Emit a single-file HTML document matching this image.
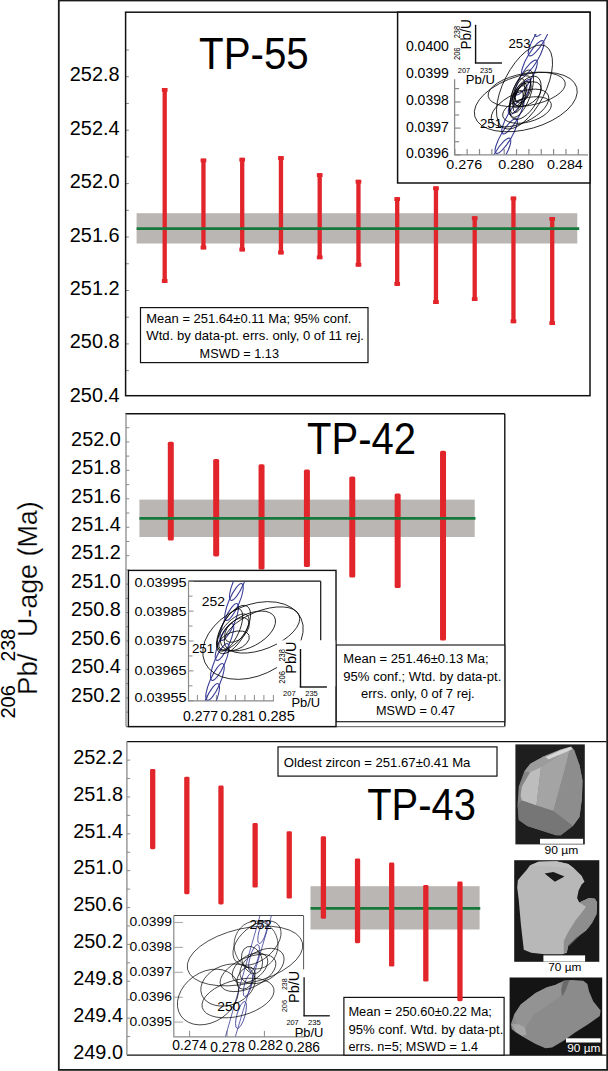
<!DOCTYPE html>
<html><head><meta charset="utf-8"><style>
html,body{margin:0;padding:0;background:#fff;}
svg{display:block;}
text{font-family:"Liberation Sans", sans-serif;}
</style></head><body>
<svg width="608" height="1071" viewBox="0 0 608 1071" font-family='"Liberation Sans", sans-serif'>
<rect x="0" y="0" width="608" height="1071" fill="#fff"/>
<rect x="58.80" y="0.50" width="548.40" height="1069.40" fill="none" stroke="#1a1a1a" stroke-width="1.8" />
<g transform="translate(37.0 0) rotate(-90)" stroke="#fff" stroke-width="0.25"><text x="-695.0" y="0" font-size="27" textLength="41.5" lengthAdjust="spacingAndGlyphs">Pb/</text><text x="-637.0" y="0" font-size="27" textLength="135.6" lengthAdjust="spacingAndGlyphs">U-age (Ma)</text></g>
<g transform="translate(14.9 0) rotate(-90)"><text x="-718.6" y="0" font-size="19.3" textLength="33.6" lengthAdjust="spacingAndGlyphs">206</text><text x="-661.4" y="0" font-size="19.3" textLength="32.4" lengthAdjust="spacingAndGlyphs">238</text></g>
<line x1="125.60" y1="50.00" x2="128.90" y2="50.00" stroke="#8a8a8a" stroke-width="1" />
<line x1="125.60" y1="76.72" x2="128.90" y2="76.72" stroke="#8a8a8a" stroke-width="1" />
<line x1="125.60" y1="103.44" x2="128.90" y2="103.44" stroke="#8a8a8a" stroke-width="1" />
<line x1="125.60" y1="130.16" x2="128.90" y2="130.16" stroke="#8a8a8a" stroke-width="1" />
<line x1="125.60" y1="156.88" x2="128.90" y2="156.88" stroke="#8a8a8a" stroke-width="1" />
<line x1="125.60" y1="183.60" x2="128.90" y2="183.60" stroke="#8a8a8a" stroke-width="1" />
<line x1="125.60" y1="210.32" x2="128.90" y2="210.32" stroke="#8a8a8a" stroke-width="1" />
<line x1="125.60" y1="237.04" x2="128.90" y2="237.04" stroke="#8a8a8a" stroke-width="1" />
<line x1="125.60" y1="263.76" x2="128.90" y2="263.76" stroke="#8a8a8a" stroke-width="1" />
<line x1="125.60" y1="290.48" x2="128.90" y2="290.48" stroke="#8a8a8a" stroke-width="1" />
<line x1="125.60" y1="317.20" x2="128.90" y2="317.20" stroke="#8a8a8a" stroke-width="1" />
<line x1="125.60" y1="343.92" x2="128.90" y2="343.92" stroke="#8a8a8a" stroke-width="1" />
<line x1="125.60" y1="370.64" x2="128.90" y2="370.64" stroke="#8a8a8a" stroke-width="1" />
<text x="69.80" y="81.20" font-size="20" textLength="49.80" lengthAdjust="spacingAndGlyphs" text-anchor="start" fill="#000" >252.8</text>
<text x="69.80" y="134.65" font-size="20" textLength="49.80" lengthAdjust="spacingAndGlyphs" text-anchor="start" fill="#000" >252.4</text>
<text x="69.80" y="188.10" font-size="20" textLength="49.80" lengthAdjust="spacingAndGlyphs" text-anchor="start" fill="#000" >252.0</text>
<text x="69.80" y="241.55" font-size="20" textLength="49.80" lengthAdjust="spacingAndGlyphs" text-anchor="start" fill="#000" >251.6</text>
<text x="69.80" y="295.00" font-size="20" textLength="49.80" lengthAdjust="spacingAndGlyphs" text-anchor="start" fill="#000" >251.2</text>
<text x="69.80" y="348.45" font-size="20" textLength="49.80" lengthAdjust="spacingAndGlyphs" text-anchor="start" fill="#000" >250.8</text>
<text x="69.80" y="401.90" font-size="20" textLength="49.80" lengthAdjust="spacingAndGlyphs" text-anchor="start" fill="#000" >250.4</text>
<rect x="136.60" y="213.20" width="440.70" height="30.30" fill="#bab6b3" />
<rect x="162.55" y="88.00" width="4.30" height="194.90" fill="#e2252b" />
<rect x="161.85" y="88.00" width="5.70" height="3.80" fill="#e2252b" />
<rect x="161.85" y="279.10" width="5.70" height="3.80" fill="#e2252b" />
<rect x="201.30" y="158.60" width="4.30" height="90.80" fill="#e2252b" />
<rect x="200.60" y="158.60" width="5.70" height="3.80" fill="#e2252b" />
<rect x="200.60" y="245.60" width="5.70" height="3.80" fill="#e2252b" />
<rect x="240.05" y="157.80" width="4.30" height="93.60" fill="#e2252b" />
<rect x="239.35" y="157.80" width="5.70" height="3.80" fill="#e2252b" />
<rect x="239.35" y="247.60" width="5.70" height="3.80" fill="#e2252b" />
<rect x="278.80" y="156.20" width="4.30" height="98.20" fill="#e2252b" />
<rect x="278.10" y="156.20" width="5.70" height="3.80" fill="#e2252b" />
<rect x="278.10" y="250.60" width="5.70" height="3.80" fill="#e2252b" />
<rect x="317.55" y="173.20" width="4.30" height="86.00" fill="#e2252b" />
<rect x="316.85" y="173.20" width="5.70" height="3.80" fill="#e2252b" />
<rect x="316.85" y="255.40" width="5.70" height="3.80" fill="#e2252b" />
<rect x="356.30" y="179.80" width="4.30" height="86.80" fill="#e2252b" />
<rect x="355.60" y="179.80" width="5.70" height="3.80" fill="#e2252b" />
<rect x="355.60" y="262.80" width="5.70" height="3.80" fill="#e2252b" />
<rect x="395.05" y="197.20" width="4.30" height="88.60" fill="#e2252b" />
<rect x="394.35" y="197.20" width="5.70" height="3.80" fill="#e2252b" />
<rect x="394.35" y="282.00" width="5.70" height="3.80" fill="#e2252b" />
<rect x="433.80" y="186.40" width="4.30" height="117.60" fill="#e2252b" />
<rect x="433.10" y="186.40" width="5.70" height="3.80" fill="#e2252b" />
<rect x="433.10" y="300.20" width="5.70" height="3.80" fill="#e2252b" />
<rect x="472.55" y="216.30" width="4.30" height="84.70" fill="#e2252b" />
<rect x="471.85" y="216.30" width="5.70" height="3.80" fill="#e2252b" />
<rect x="471.85" y="297.20" width="5.70" height="3.80" fill="#e2252b" />
<rect x="511.30" y="196.60" width="4.30" height="126.60" fill="#e2252b" />
<rect x="510.60" y="196.60" width="5.70" height="3.80" fill="#e2252b" />
<rect x="510.60" y="319.40" width="5.70" height="3.80" fill="#e2252b" />
<rect x="550.05" y="217.00" width="4.30" height="108.00" fill="#e2252b" />
<rect x="549.35" y="217.00" width="5.70" height="3.80" fill="#e2252b" />
<rect x="549.35" y="321.20" width="5.70" height="3.80" fill="#e2252b" />
<line x1="136.60" y1="228.70" x2="579.20" y2="228.70" stroke="#15793b" stroke-width="2.7" />
<text x="199.00" y="68.50" font-size="44" textLength="109.80" lengthAdjust="spacingAndGlyphs" text-anchor="start" fill="#000" >TP-55</text>
<rect x="140.50" y="307.60" width="227.50" height="55.00" fill="#fff" stroke="#111" stroke-width="1.2" />
<text x="146.30" y="323.00" font-size="12.2" textLength="205.10" lengthAdjust="spacingAndGlyphs" text-anchor="start" fill="#000" >Mean = 251.64&#177;0.11 Ma; 95% conf.</text>
<text x="146.30" y="340.20" font-size="12.2" textLength="217.70" lengthAdjust="spacingAndGlyphs" text-anchor="start" fill="#000" >Wtd. by data-pt. errs. only, 0 of 11 rej.</text>
<text x="199.60" y="357.60" font-size="12.2" textLength="79.40" lengthAdjust="spacingAndGlyphs" text-anchor="start" fill="#000" >MSWD = 1.13</text>
<rect x="125.60" y="12.20" width="464.40" height="383.50" fill="none" stroke="#111" stroke-width="1.5" />
<rect x="397.60" y="12.20" width="192.40" height="170.80" fill="#fff" stroke="#111" stroke-width="1.5" />
<line x1="454.60" y1="79.20" x2="454.60" y2="155.00" stroke="#8a8a8a" stroke-width="1.3" />
<line x1="454.00" y1="154.80" x2="588.00" y2="154.80" stroke="#8a8a8a" stroke-width="1.3" />
<line x1="454.60" y1="154.80" x2="460.60" y2="154.80" stroke="#8a8a8a" stroke-width="1.2" />
<line x1="454.60" y1="141.70" x2="459.10" y2="141.70" stroke="#8a8a8a" stroke-width="1.2" />
<line x1="454.60" y1="128.10" x2="460.60" y2="128.10" stroke="#8a8a8a" stroke-width="1.2" />
<line x1="454.60" y1="115.00" x2="459.10" y2="115.00" stroke="#8a8a8a" stroke-width="1.2" />
<line x1="454.60" y1="102.00" x2="460.60" y2="102.00" stroke="#8a8a8a" stroke-width="1.2" />
<line x1="454.60" y1="88.60" x2="459.10" y2="88.60" stroke="#8a8a8a" stroke-width="1.2" />
<line x1="454.80" y1="154.80" x2="454.80" y2="149.00" stroke="#8a8a8a" stroke-width="1.2" />
<line x1="467.15" y1="154.80" x2="467.15" y2="149.00" stroke="#8a8a8a" stroke-width="1.2" />
<line x1="479.50" y1="154.80" x2="479.50" y2="149.00" stroke="#8a8a8a" stroke-width="1.2" />
<line x1="491.85" y1="154.80" x2="491.85" y2="149.00" stroke="#8a8a8a" stroke-width="1.2" />
<line x1="504.20" y1="154.80" x2="504.20" y2="149.00" stroke="#8a8a8a" stroke-width="1.2" />
<line x1="516.55" y1="154.80" x2="516.55" y2="149.00" stroke="#8a8a8a" stroke-width="1.2" />
<line x1="528.90" y1="154.80" x2="528.90" y2="149.00" stroke="#8a8a8a" stroke-width="1.2" />
<line x1="541.25" y1="154.80" x2="541.25" y2="149.00" stroke="#8a8a8a" stroke-width="1.2" />
<line x1="553.60" y1="154.80" x2="553.60" y2="149.00" stroke="#8a8a8a" stroke-width="1.2" />
<line x1="565.95" y1="154.80" x2="565.95" y2="149.00" stroke="#8a8a8a" stroke-width="1.2" />
<line x1="578.30" y1="154.80" x2="578.30" y2="149.00" stroke="#8a8a8a" stroke-width="1.2" />
<text x="405.90" y="51.40" font-size="13.8" textLength="43.00" lengthAdjust="spacingAndGlyphs" text-anchor="start" fill="#000" >0.0400</text>
<text x="405.90" y="78.10" font-size="13.8" textLength="43.00" lengthAdjust="spacingAndGlyphs" text-anchor="start" fill="#000" >0.0399</text>
<text x="405.90" y="104.80" font-size="13.8" textLength="43.00" lengthAdjust="spacingAndGlyphs" text-anchor="start" fill="#000" >0.0398</text>
<text x="405.90" y="131.50" font-size="13.8" textLength="43.00" lengthAdjust="spacingAndGlyphs" text-anchor="start" fill="#000" >0.0397</text>
<text x="405.90" y="158.20" font-size="13.8" textLength="43.00" lengthAdjust="spacingAndGlyphs" text-anchor="start" fill="#000" >0.0396</text>
<text x="446.30" y="169.00" font-size="13.4" textLength="35.80" lengthAdjust="spacingAndGlyphs" text-anchor="start" fill="#000" >0.276</text>
<text x="498.20" y="169.00" font-size="13.4" textLength="35.80" lengthAdjust="spacingAndGlyphs" text-anchor="start" fill="#000" >0.280</text>
<text x="547.00" y="169.00" font-size="13.4" textLength="35.80" lengthAdjust="spacingAndGlyphs" text-anchor="start" fill="#000" >0.284</text>
<clipPath id="cc1"><rect x="455" y="34" width="135" height="120.5"/></clipPath><g clip-path="url(#cc1)">
<ellipse cx="493.00" cy="175.00" rx="20.00" ry="5.20" transform="rotate(-59.23513670710372 493.00 175.00)" fill="none" stroke="#3b3e96" stroke-width="1.1"/>
<ellipse cx="499.62" cy="155.50" rx="20.00" ry="5.20" transform="rotate(-59.23513670710372 499.62 155.50)" fill="none" stroke="#3b3e96" stroke-width="1.1"/>
<ellipse cx="506.25" cy="136.00" rx="20.00" ry="5.20" transform="rotate(-59.23513670710372 506.25 136.00)" fill="none" stroke="#3b3e96" stroke-width="1.1"/>
<ellipse cx="512.88" cy="116.50" rx="20.00" ry="5.20" transform="rotate(-59.23513670710372 512.88 116.50)" fill="none" stroke="#3b3e96" stroke-width="1.1"/>
<ellipse cx="519.50" cy="97.00" rx="20.00" ry="5.20" transform="rotate(-59.23513670710372 519.50 97.00)" fill="none" stroke="#3b3e96" stroke-width="1.1"/>
<ellipse cx="526.12" cy="77.50" rx="20.00" ry="5.20" transform="rotate(-59.23513670710372 526.12 77.50)" fill="none" stroke="#3b3e96" stroke-width="1.1"/>
<ellipse cx="532.75" cy="58.00" rx="20.00" ry="5.20" transform="rotate(-59.23513670710372 532.75 58.00)" fill="none" stroke="#3b3e96" stroke-width="1.1"/>
<ellipse cx="539.38" cy="38.50" rx="20.00" ry="5.20" transform="rotate(-59.23513670710372 539.38 38.50)" fill="none" stroke="#3b3e96" stroke-width="1.1"/>
<ellipse cx="546.00" cy="19.00" rx="20.00" ry="5.20" transform="rotate(-59.23513670710372 546.00 19.00)" fill="none" stroke="#3b3e96" stroke-width="1.1"/>
</g>
<ellipse cx="524.50" cy="87.00" rx="46.00" ry="21.00" transform="rotate(-63 524.50 87.00)" fill="none" stroke="#000" stroke-width="0.75"/>
<ellipse cx="526.70" cy="89.50" rx="39.10" ry="16.20" transform="rotate(-10 526.70 89.50)" fill="none" stroke="#000" stroke-width="0.75"/>
<ellipse cx="525.80" cy="102.00" rx="53.00" ry="27.00" transform="rotate(-16 525.80 102.00)" fill="none" stroke="#000" stroke-width="0.75"/>
<ellipse cx="527.00" cy="110.00" rx="25.00" ry="12.00" transform="rotate(-15 527.00 110.00)" fill="none" stroke="#000" stroke-width="0.75"/>
<ellipse cx="520.00" cy="108.00" rx="31.00" ry="15.00" transform="rotate(-25 520.00 108.00)" fill="none" stroke="#000" stroke-width="0.75"/>
<ellipse cx="517.40" cy="95.90" rx="18.00" ry="6.00" transform="rotate(-75 517.40 95.90)" fill="none" stroke="#000" stroke-width="0.75"/>
<ellipse cx="521.50" cy="91.50" rx="17.00" ry="7.00" transform="rotate(-67 521.50 91.50)" fill="none" stroke="#000" stroke-width="0.75"/>
<ellipse cx="523.30" cy="92.20" rx="12.00" ry="6.00" transform="rotate(-60 523.30 92.20)" fill="none" stroke="#000" stroke-width="0.75"/>
<ellipse cx="521.50" cy="93.70" rx="25.00" ry="9.00" transform="rotate(-70 521.50 93.70)" fill="none" stroke="#000" stroke-width="0.75"/>
<ellipse cx="525.20" cy="97.80" rx="24.00" ry="12.00" transform="rotate(-60 525.20 97.80)" fill="none" stroke="#000" stroke-width="0.75"/>
<ellipse cx="518.50" cy="98.00" rx="8.00" ry="4.00" transform="rotate(-70 518.50 98.00)" fill="none" stroke="#000" stroke-width="0.75"/>
<ellipse cx="520.70" cy="92.20" rx="10.00" ry="5.00" transform="rotate(-65 520.70 92.20)" fill="none" stroke="#000" stroke-width="0.75"/>
<ellipse cx="519.50" cy="99.00" rx="14.00" ry="5.00" transform="rotate(-72 519.50 99.00)" fill="none" stroke="#000" stroke-width="0.75"/>
<ellipse cx="527.00" cy="94.00" rx="16.00" ry="10.00" transform="rotate(-35 527.00 94.00)" fill="none" stroke="#000" stroke-width="0.75"/>
<text x="508.50" y="47.80" font-size="13.5" textLength="22.00" lengthAdjust="spacingAndGlyphs" text-anchor="start" fill="#000" >253</text>
<text x="480.00" y="127.60" font-size="13.5" textLength="22.00" lengthAdjust="spacingAndGlyphs" text-anchor="start" fill="#000" >251</text>
<line x1="475.60" y1="24.80" x2="475.60" y2="63.30" stroke="#111" stroke-width="1.4" />
<line x1="474.90" y1="63.00" x2="502.00" y2="63.00" stroke="#111" stroke-width="1.4" />
<g transform="translate(471.2 0) rotate(-90)"><text x="-49.5" y="0" font-size="14" textLength="30.3" lengthAdjust="spacingAndGlyphs">Pb/U</text></g>
<g transform="translate(459.7 0) rotate(-90)"><text x="-38.3" y="0" font-size="8.2" textLength="12.5" lengthAdjust="spacingAndGlyphs">238</text><text x="-60.0" y="0" font-size="8.2" textLength="12.5" lengthAdjust="spacingAndGlyphs">206</text></g>
<text x="457.80" y="72.80" font-size="7.2" textLength="12.30" lengthAdjust="spacingAndGlyphs" text-anchor="start" fill="#000" >207</text>
<text x="480.00" y="72.80" font-size="7.2" textLength="12.30" lengthAdjust="spacingAndGlyphs" text-anchor="start" fill="#000" >235</text>
<text x="465.80" y="84.40" font-size="12.5" textLength="29.20" lengthAdjust="spacingAndGlyphs" text-anchor="start" fill="#000" >Pb/U</text>
<line x1="125.40" y1="413.80" x2="504.80" y2="413.80" stroke="#111" stroke-width="1.4" />
<line x1="504.80" y1="413.80" x2="504.80" y2="726.60" stroke="#111" stroke-width="1.4" />
<line x1="126.00" y1="726.60" x2="504.80" y2="726.60" stroke="#777" stroke-width="1.3" />
<line x1="126.00" y1="413.80" x2="126.00" y2="726.60" stroke="#8a8a8a" stroke-width="1.3" />
<line x1="126.00" y1="427.70" x2="129.30" y2="427.70" stroke="#8a8a8a" stroke-width="1" />
<line x1="126.00" y1="441.92" x2="129.30" y2="441.92" stroke="#8a8a8a" stroke-width="1" />
<line x1="126.00" y1="456.14" x2="129.30" y2="456.14" stroke="#8a8a8a" stroke-width="1" />
<line x1="126.00" y1="470.36" x2="129.30" y2="470.36" stroke="#8a8a8a" stroke-width="1" />
<line x1="126.00" y1="484.58" x2="129.30" y2="484.58" stroke="#8a8a8a" stroke-width="1" />
<line x1="126.00" y1="498.80" x2="129.30" y2="498.80" stroke="#8a8a8a" stroke-width="1" />
<line x1="126.00" y1="513.02" x2="129.30" y2="513.02" stroke="#8a8a8a" stroke-width="1" />
<line x1="126.00" y1="527.24" x2="129.30" y2="527.24" stroke="#8a8a8a" stroke-width="1" />
<line x1="126.00" y1="541.46" x2="129.30" y2="541.46" stroke="#8a8a8a" stroke-width="1" />
<line x1="126.00" y1="555.68" x2="129.30" y2="555.68" stroke="#8a8a8a" stroke-width="1" />
<line x1="126.00" y1="569.90" x2="129.30" y2="569.90" stroke="#8a8a8a" stroke-width="1" />
<line x1="126.00" y1="584.12" x2="129.30" y2="584.12" stroke="#8a8a8a" stroke-width="1" />
<line x1="126.00" y1="598.34" x2="129.30" y2="598.34" stroke="#8a8a8a" stroke-width="1" />
<line x1="126.00" y1="612.56" x2="129.30" y2="612.56" stroke="#8a8a8a" stroke-width="1" />
<line x1="126.00" y1="626.78" x2="129.30" y2="626.78" stroke="#8a8a8a" stroke-width="1" />
<line x1="126.00" y1="641.00" x2="129.30" y2="641.00" stroke="#8a8a8a" stroke-width="1" />
<line x1="126.00" y1="655.22" x2="129.30" y2="655.22" stroke="#8a8a8a" stroke-width="1" />
<line x1="126.00" y1="669.44" x2="129.30" y2="669.44" stroke="#8a8a8a" stroke-width="1" />
<line x1="126.00" y1="683.66" x2="129.30" y2="683.66" stroke="#8a8a8a" stroke-width="1" />
<line x1="126.00" y1="697.88" x2="129.30" y2="697.88" stroke="#8a8a8a" stroke-width="1" />
<line x1="126.00" y1="712.10" x2="129.30" y2="712.10" stroke="#8a8a8a" stroke-width="1" />
<text x="71.10" y="445.70" font-size="20" textLength="49.70" lengthAdjust="spacingAndGlyphs" text-anchor="start" fill="#000" >252.0</text>
<text x="71.10" y="474.14" font-size="20" textLength="49.70" lengthAdjust="spacingAndGlyphs" text-anchor="start" fill="#000" >251.8</text>
<text x="71.10" y="502.58" font-size="20" textLength="49.70" lengthAdjust="spacingAndGlyphs" text-anchor="start" fill="#000" >251.6</text>
<text x="71.10" y="531.02" font-size="20" textLength="49.70" lengthAdjust="spacingAndGlyphs" text-anchor="start" fill="#000" >251.4</text>
<text x="71.10" y="559.46" font-size="20" textLength="49.70" lengthAdjust="spacingAndGlyphs" text-anchor="start" fill="#000" >251.2</text>
<text x="71.10" y="587.90" font-size="20" textLength="49.70" lengthAdjust="spacingAndGlyphs" text-anchor="start" fill="#000" >251.0</text>
<text x="71.10" y="616.34" font-size="20" textLength="49.70" lengthAdjust="spacingAndGlyphs" text-anchor="start" fill="#000" >250.8</text>
<text x="71.10" y="644.78" font-size="20" textLength="49.70" lengthAdjust="spacingAndGlyphs" text-anchor="start" fill="#000" >250.6</text>
<text x="71.10" y="673.22" font-size="20" textLength="49.70" lengthAdjust="spacingAndGlyphs" text-anchor="start" fill="#000" >250.4</text>
<text x="71.10" y="701.66" font-size="20" textLength="49.70" lengthAdjust="spacingAndGlyphs" text-anchor="start" fill="#000" >250.2</text>
<rect x="139.40" y="499.60" width="335.30" height="37.40" fill="#bab6b3" />
<rect x="167.80" y="441.70" width="6.00" height="98.90" fill="#e2252b" rx="1.6"/>
<rect x="213.17" y="459.00" width="6.00" height="97.40" fill="#e2252b" rx="1.6"/>
<rect x="258.54" y="464.20" width="6.00" height="105.30" fill="#e2252b" rx="1.6"/>
<rect x="303.91" y="469.60" width="6.00" height="97.40" fill="#e2252b" rx="1.6"/>
<rect x="349.28" y="476.40" width="6.00" height="101.20" fill="#e2252b" rx="1.6"/>
<rect x="394.65" y="493.40" width="6.00" height="94.60" fill="#e2252b" rx="1.6"/>
<rect x="440.02" y="450.80" width="6.00" height="189.80" fill="#e2252b" rx="1.6"/>
<line x1="139.40" y1="518.30" x2="475.50" y2="518.30" stroke="#15793b" stroke-width="2.7" />
<text x="307.00" y="453.50" font-size="44" textLength="109.00" lengthAdjust="spacingAndGlyphs" text-anchor="start" fill="#000" >TP-42</text>
<rect x="336.00" y="645.00" width="168.80" height="76.70" fill="#fff" stroke="#222" stroke-width="1.2" />
<text x="343.30" y="663.00" font-size="12.5" textLength="145.30" lengthAdjust="spacingAndGlyphs" text-anchor="start" fill="#000" >Mean = 251.46&#177;0.13 Ma;</text>
<text x="343.30" y="680.80" font-size="12.5" textLength="158.00" lengthAdjust="spacingAndGlyphs" text-anchor="start" fill="#000" >95% conf.; Wtd. by data-pt.</text>
<text x="361.10" y="697.70" font-size="12.5" textLength="113.60" lengthAdjust="spacingAndGlyphs" text-anchor="start" fill="#000" >errs. only, 0 of 7 rej.</text>
<text x="375.90" y="714.50" font-size="12.5" textLength="79.20" lengthAdjust="spacingAndGlyphs" text-anchor="start" fill="#000" >MSWD = 0.47</text>
<rect x="128.40" y="570.40" width="207.60" height="156.20" fill="#fff" stroke="#111" stroke-width="1.4" />
<line x1="188.50" y1="581.20" x2="320.70" y2="581.20" stroke="#111" stroke-width="1.2" />
<line x1="320.70" y1="581.20" x2="320.70" y2="640.40" stroke="#111" stroke-width="1.2" />
<line x1="188.50" y1="581.20" x2="188.50" y2="701.30" stroke="#8a8a8a" stroke-width="1.2" />
<line x1="188.00" y1="700.80" x2="273.80" y2="700.80" stroke="#8a8a8a" stroke-width="1.2" />
<line x1="188.50" y1="581.20" x2="193.50" y2="581.20" stroke="#8a8a8a" stroke-width="1" />
<line x1="188.50" y1="596.15" x2="192.50" y2="596.15" stroke="#8a8a8a" stroke-width="1" />
<line x1="188.50" y1="611.10" x2="193.50" y2="611.10" stroke="#8a8a8a" stroke-width="1" />
<line x1="188.50" y1="626.05" x2="192.50" y2="626.05" stroke="#8a8a8a" stroke-width="1" />
<line x1="188.50" y1="641.00" x2="193.50" y2="641.00" stroke="#8a8a8a" stroke-width="1" />
<line x1="188.50" y1="655.95" x2="192.50" y2="655.95" stroke="#8a8a8a" stroke-width="1" />
<line x1="188.50" y1="670.90" x2="193.50" y2="670.90" stroke="#8a8a8a" stroke-width="1" />
<line x1="188.50" y1="685.85" x2="192.50" y2="685.85" stroke="#8a8a8a" stroke-width="1" />
<line x1="188.50" y1="700.80" x2="193.50" y2="700.80" stroke="#8a8a8a" stroke-width="1" />
<line x1="197.40" y1="700.80" x2="197.40" y2="695.00" stroke="#8a8a8a" stroke-width="1" />
<line x1="206.90" y1="700.80" x2="206.90" y2="695.00" stroke="#8a8a8a" stroke-width="1" />
<line x1="216.40" y1="700.80" x2="216.40" y2="695.00" stroke="#8a8a8a" stroke-width="1" />
<line x1="225.90" y1="700.80" x2="225.90" y2="695.00" stroke="#8a8a8a" stroke-width="1" />
<line x1="235.40" y1="700.80" x2="235.40" y2="695.00" stroke="#8a8a8a" stroke-width="1" />
<line x1="244.90" y1="700.80" x2="244.90" y2="695.00" stroke="#8a8a8a" stroke-width="1" />
<line x1="254.40" y1="700.80" x2="254.40" y2="695.00" stroke="#8a8a8a" stroke-width="1" />
<line x1="263.90" y1="700.80" x2="263.90" y2="695.00" stroke="#8a8a8a" stroke-width="1" />
<line x1="273.40" y1="700.80" x2="273.40" y2="695.00" stroke="#8a8a8a" stroke-width="1" />
<text x="134.40" y="586.50" font-size="13.7" textLength="52.20" lengthAdjust="spacingAndGlyphs" text-anchor="start" fill="#000" >0.03995</text>
<text x="134.40" y="615.60" font-size="13.7" textLength="52.20" lengthAdjust="spacingAndGlyphs" text-anchor="start" fill="#000" >0.03985</text>
<text x="134.40" y="645.20" font-size="13.7" textLength="52.20" lengthAdjust="spacingAndGlyphs" text-anchor="start" fill="#000" >0.03975</text>
<text x="134.40" y="675.00" font-size="13.7" textLength="52.20" lengthAdjust="spacingAndGlyphs" text-anchor="start" fill="#000" >0.03965</text>
<text x="134.40" y="702.30" font-size="13.7" textLength="52.20" lengthAdjust="spacingAndGlyphs" text-anchor="start" fill="#000" >0.03955</text>
<text x="183.00" y="720.60" font-size="15.0" textLength="35.20" lengthAdjust="spacingAndGlyphs" text-anchor="start" fill="#000" >0.277</text>
<text x="220.40" y="720.60" font-size="15.0" textLength="34.90" lengthAdjust="spacingAndGlyphs" text-anchor="start" fill="#000" >0.281</text>
<text x="258.40" y="720.60" font-size="15.0" textLength="36.40" lengthAdjust="spacingAndGlyphs" text-anchor="start" fill="#000" >0.285</text>
<clipPath id="cc2"><rect x="189" y="581.5" width="132" height="119.0"/></clipPath><g clip-path="url(#cc2)">
<ellipse cx="205.50" cy="722.00" rx="20.00" ry="5.20" transform="rotate(-66.63978155523552 205.50 722.00)" fill="none" stroke="#3b3e96" stroke-width="1.1"/>
<ellipse cx="210.25" cy="702.00" rx="20.00" ry="5.20" transform="rotate(-66.63978155523552 210.25 702.00)" fill="none" stroke="#3b3e96" stroke-width="1.1"/>
<ellipse cx="215.00" cy="682.00" rx="20.00" ry="5.20" transform="rotate(-66.63978155523552 215.00 682.00)" fill="none" stroke="#3b3e96" stroke-width="1.1"/>
<ellipse cx="219.75" cy="662.00" rx="20.00" ry="5.20" transform="rotate(-66.63978155523552 219.75 662.00)" fill="none" stroke="#3b3e96" stroke-width="1.1"/>
<ellipse cx="224.50" cy="642.00" rx="20.00" ry="5.20" transform="rotate(-66.63978155523552 224.50 642.00)" fill="none" stroke="#3b3e96" stroke-width="1.1"/>
<ellipse cx="229.25" cy="622.00" rx="20.00" ry="5.20" transform="rotate(-66.63978155523552 229.25 622.00)" fill="none" stroke="#3b3e96" stroke-width="1.1"/>
<ellipse cx="234.00" cy="602.00" rx="20.00" ry="5.20" transform="rotate(-66.63978155523552 234.00 602.00)" fill="none" stroke="#3b3e96" stroke-width="1.1"/>
<ellipse cx="238.75" cy="582.00" rx="20.00" ry="5.20" transform="rotate(-66.63978155523552 238.75 582.00)" fill="none" stroke="#3b3e96" stroke-width="1.1"/>
<ellipse cx="243.50" cy="562.00" rx="20.00" ry="5.20" transform="rotate(-66.63978155523552 243.50 562.00)" fill="none" stroke="#3b3e96" stroke-width="1.1"/>
</g>
<ellipse cx="253.00" cy="640.50" rx="52.90" ry="35.20" transform="rotate(-24.7 253.00 640.50)" fill="none" stroke="#000" stroke-width="0.75"/>
<ellipse cx="262.00" cy="630.00" rx="40.00" ry="19.00" transform="rotate(-22 262.00 630.00)" fill="none" stroke="#000" stroke-width="0.75"/>
<ellipse cx="248.00" cy="631.00" rx="30.00" ry="16.00" transform="rotate(-28 248.00 631.00)" fill="none" stroke="#000" stroke-width="0.75"/>
<ellipse cx="233.50" cy="629.50" rx="27.00" ry="12.00" transform="rotate(-60 233.50 629.50)" fill="none" stroke="#000" stroke-width="0.75"/>
<ellipse cx="233.00" cy="632.00" rx="22.00" ry="10.00" transform="rotate(-50 233.00 632.00)" fill="none" stroke="#000" stroke-width="0.75"/>
<ellipse cx="237.00" cy="630.00" rx="15.00" ry="9.00" transform="rotate(-45 237.00 630.00)" fill="none" stroke="#000" stroke-width="0.75"/>
<ellipse cx="230.00" cy="630.00" rx="23.00" ry="9.00" transform="rotate(-65 230.00 630.00)" fill="none" stroke="#000" stroke-width="0.75"/>
<ellipse cx="234.00" cy="641.00" rx="16.00" ry="9.00" transform="rotate(-20 234.00 641.00)" fill="none" stroke="#000" stroke-width="0.75"/>
<text x="201.80" y="605.80" font-size="13.0" textLength="23.20" lengthAdjust="spacingAndGlyphs" text-anchor="start" fill="#000" >252</text>
<text x="191.90" y="653.20" font-size="13.0" textLength="22.20" lengthAdjust="spacingAndGlyphs" text-anchor="start" fill="#000" >251</text>
<rect x="277.00" y="640.40" width="58.30" height="46.00" fill="#fff" />
<line x1="300.50" y1="649.00" x2="300.50" y2="687.30" stroke="#111" stroke-width="1.4" />
<line x1="299.80" y1="687.00" x2="326.90" y2="687.00" stroke="#111" stroke-width="1.4" />
<g transform="translate(295.7 0) rotate(-90)"><text x="-673.7" y="0" font-size="14.5" textLength="32" lengthAdjust="spacingAndGlyphs">Pb/U</text></g>
<g transform="translate(285.2 0) rotate(-90)"><text x="-661.6" y="0" font-size="8.2" textLength="12.6" lengthAdjust="spacingAndGlyphs">238</text><text x="-683.7" y="0" font-size="8.2" textLength="12.7" lengthAdjust="spacingAndGlyphs">206</text></g>
<text x="283.00" y="695.80" font-size="7.4" textLength="12.70" lengthAdjust="spacingAndGlyphs" text-anchor="start" fill="#000" >207</text>
<text x="305.20" y="695.80" font-size="7.4" textLength="12.60" lengthAdjust="spacingAndGlyphs" text-anchor="start" fill="#000" >235</text>
<text x="291.50" y="707.40" font-size="12.9" textLength="28.70" lengthAdjust="spacingAndGlyphs" text-anchor="start" fill="#000" >Pb/U</text>
<line x1="126.90" y1="741.60" x2="606.50" y2="741.60" stroke="#111" stroke-width="1.4" />
<line x1="126.90" y1="1055.10" x2="606.50" y2="1055.10" stroke="#111" stroke-width="1.4" />
<line x1="126.90" y1="741.60" x2="126.90" y2="1055.10" stroke="#8a8a8a" stroke-width="1.3" />
<line x1="126.90" y1="760.10" x2="130.20" y2="760.10" stroke="#8a8a8a" stroke-width="1" />
<line x1="126.90" y1="778.53" x2="130.20" y2="778.53" stroke="#8a8a8a" stroke-width="1" />
<line x1="126.90" y1="796.96" x2="130.20" y2="796.96" stroke="#8a8a8a" stroke-width="1" />
<line x1="126.90" y1="815.39" x2="130.20" y2="815.39" stroke="#8a8a8a" stroke-width="1" />
<line x1="126.90" y1="833.82" x2="130.20" y2="833.82" stroke="#8a8a8a" stroke-width="1" />
<line x1="126.90" y1="852.25" x2="130.20" y2="852.25" stroke="#8a8a8a" stroke-width="1" />
<line x1="126.90" y1="870.68" x2="130.20" y2="870.68" stroke="#8a8a8a" stroke-width="1" />
<line x1="126.90" y1="889.11" x2="130.20" y2="889.11" stroke="#8a8a8a" stroke-width="1" />
<line x1="126.90" y1="907.54" x2="130.20" y2="907.54" stroke="#8a8a8a" stroke-width="1" />
<line x1="126.90" y1="925.97" x2="130.20" y2="925.97" stroke="#8a8a8a" stroke-width="1" />
<line x1="126.90" y1="944.40" x2="130.20" y2="944.40" stroke="#8a8a8a" stroke-width="1" />
<line x1="126.90" y1="962.83" x2="130.20" y2="962.83" stroke="#8a8a8a" stroke-width="1" />
<line x1="126.90" y1="981.26" x2="130.20" y2="981.26" stroke="#8a8a8a" stroke-width="1" />
<line x1="126.90" y1="999.69" x2="130.20" y2="999.69" stroke="#8a8a8a" stroke-width="1" />
<line x1="126.90" y1="1018.12" x2="130.20" y2="1018.12" stroke="#8a8a8a" stroke-width="1" />
<line x1="126.90" y1="1036.55" x2="130.20" y2="1036.55" stroke="#8a8a8a" stroke-width="1" />
<text x="73.20" y="763.80" font-size="20" textLength="49.80" lengthAdjust="spacingAndGlyphs" text-anchor="start" fill="#000" >252.2</text>
<text x="73.20" y="800.66" font-size="20" textLength="49.80" lengthAdjust="spacingAndGlyphs" text-anchor="start" fill="#000" >251.8</text>
<text x="73.20" y="837.52" font-size="20" textLength="49.80" lengthAdjust="spacingAndGlyphs" text-anchor="start" fill="#000" >251.4</text>
<text x="73.20" y="874.38" font-size="20" textLength="49.80" lengthAdjust="spacingAndGlyphs" text-anchor="start" fill="#000" >251.0</text>
<text x="73.20" y="911.24" font-size="20" textLength="49.80" lengthAdjust="spacingAndGlyphs" text-anchor="start" fill="#000" >250.6</text>
<text x="73.20" y="948.10" font-size="20" textLength="49.80" lengthAdjust="spacingAndGlyphs" text-anchor="start" fill="#000" >250.2</text>
<text x="73.20" y="984.96" font-size="20" textLength="49.80" lengthAdjust="spacingAndGlyphs" text-anchor="start" fill="#000" >249.8</text>
<text x="73.20" y="1021.82" font-size="20" textLength="49.80" lengthAdjust="spacingAndGlyphs" text-anchor="start" fill="#000" >249.4</text>
<text x="73.20" y="1058.68" font-size="20" textLength="49.80" lengthAdjust="spacingAndGlyphs" text-anchor="start" fill="#000" >249.0</text>
<rect x="343.90" y="997.40" width="160.20" height="57.70" fill="#fff" stroke="#111" stroke-width="1.2" />
<text x="348.40" y="1016.20" font-size="12.5" textLength="143.50" lengthAdjust="spacingAndGlyphs" text-anchor="start" fill="#000" >Mean = 250.60&#177;0.22 Ma;</text>
<text x="348.40" y="1034.10" font-size="12.5" textLength="154.90" lengthAdjust="spacingAndGlyphs" text-anchor="start" fill="#000" >95% conf. Wtd. by data-pt.</text>
<text x="348.40" y="1050.70" font-size="12.5" textLength="129.70" lengthAdjust="spacingAndGlyphs" text-anchor="start" fill="#000" >errs. n=5; MSWD = 1.4</text>
<rect x="310.50" y="886.20" width="169.10" height="43.30" fill="#bab6b3" />
<line x1="310.50" y1="908.40" x2="480.30" y2="908.40" stroke="#15793b" stroke-width="2.7" />
<rect x="150.05" y="768.90" width="5.30" height="80.30" fill="#e2252b" rx="1.4"/>
<rect x="184.19" y="776.80" width="5.30" height="117.40" fill="#e2252b" rx="1.4"/>
<rect x="218.33" y="785.60" width="5.30" height="118.80" fill="#e2252b" rx="1.4"/>
<rect x="252.47" y="823.00" width="5.30" height="64.60" fill="#e2252b" rx="1.4"/>
<rect x="286.61" y="831.20" width="5.30" height="67.40" fill="#e2252b" rx="1.4"/>
<rect x="320.75" y="836.20" width="5.30" height="82.60" fill="#e2252b" rx="1.4"/>
<rect x="354.89" y="858.40" width="5.30" height="84.80" fill="#e2252b" rx="1.4"/>
<rect x="389.03" y="862.60" width="5.30" height="104.00" fill="#e2252b" rx="1.4"/>
<rect x="423.17" y="885.00" width="5.30" height="96.60" fill="#e2252b" rx="1.4"/>
<rect x="457.31" y="881.60" width="5.30" height="119.60" fill="#e2252b" rx="1.4"/>
<text x="367.20" y="820.30" font-size="44.6" textLength="108.80" lengthAdjust="spacingAndGlyphs" text-anchor="start" fill="#000" >TP-43</text>
<rect x="278.00" y="746.90" width="219.00" height="29.20" fill="#fff" stroke="#111" stroke-width="1.2" />
<text x="283.80" y="766.60" font-size="13.6" textLength="186.60" lengthAdjust="spacingAndGlyphs" text-anchor="start" fill="#000" >Oldest zircon = 251.67&#177;0.41 Ma</text>
<rect x="173.80" y="915.50" width="129.60" height="121.00" fill="#fff" />
<line x1="173.80" y1="915.50" x2="303.40" y2="915.50" stroke="#444" stroke-width="1" />
<line x1="303.60" y1="915.50" x2="303.60" y2="969.40" stroke="#555" stroke-width="1" />
<line x1="173.80" y1="915.50" x2="173.80" y2="1036.80" stroke="#8a8a8a" stroke-width="1.2" />
<line x1="173.30" y1="1036.80" x2="304.60" y2="1036.80" stroke="#8a8a8a" stroke-width="1.2" />
<line x1="173.80" y1="922.50" x2="182.90" y2="922.50" stroke="#aaa" stroke-width="1.1" />
<line x1="173.80" y1="947.40" x2="182.90" y2="947.40" stroke="#aaa" stroke-width="1.1" />
<line x1="173.80" y1="972.30" x2="182.90" y2="972.30" stroke="#aaa" stroke-width="1.1" />
<line x1="173.80" y1="997.20" x2="182.90" y2="997.20" stroke="#aaa" stroke-width="1.1" />
<line x1="173.80" y1="1022.10" x2="182.90" y2="1022.10" stroke="#aaa" stroke-width="1.1" />
<line x1="189.60" y1="1036.80" x2="189.60" y2="1030.80" stroke="#8a8a8a" stroke-width="1" />
<line x1="227.00" y1="1036.80" x2="227.00" y2="1030.80" stroke="#8a8a8a" stroke-width="1" />
<line x1="264.40" y1="1036.80" x2="264.40" y2="1030.80" stroke="#8a8a8a" stroke-width="1" />
<line x1="301.80" y1="1036.80" x2="301.80" y2="1030.80" stroke="#8a8a8a" stroke-width="1" />
<text x="129.50" y="926.40" font-size="13.0" textLength="42.50" lengthAdjust="spacingAndGlyphs" text-anchor="start" fill="#000" >0.0399</text>
<text x="129.50" y="951.25" font-size="13.0" textLength="42.50" lengthAdjust="spacingAndGlyphs" text-anchor="start" fill="#000" >0.0398</text>
<text x="129.50" y="976.10" font-size="13.0" textLength="42.50" lengthAdjust="spacingAndGlyphs" text-anchor="start" fill="#000" >0.0397</text>
<text x="129.50" y="1000.95" font-size="13.0" textLength="42.50" lengthAdjust="spacingAndGlyphs" text-anchor="start" fill="#000" >0.0396</text>
<text x="129.50" y="1025.80" font-size="13.0" textLength="42.50" lengthAdjust="spacingAndGlyphs" text-anchor="start" fill="#000" >0.0395</text>
<text x="172.30" y="1049.50" font-size="13.8" textLength="34.50" lengthAdjust="spacingAndGlyphs" text-anchor="start" fill="#000" >0.274</text>
<text x="210.30" y="1051.50" font-size="13.8" textLength="34.50" lengthAdjust="spacingAndGlyphs" text-anchor="start" fill="#000" >0.278</text>
<text x="248.30" y="1049.50" font-size="13.8" textLength="34.50" lengthAdjust="spacingAndGlyphs" text-anchor="start" fill="#000" >0.282</text>
<text x="285.50" y="1051.50" font-size="13.8" textLength="34.50" lengthAdjust="spacingAndGlyphs" text-anchor="start" fill="#000" >0.286</text>
<line x1="225.50" y1="1036.50" x2="260.00" y2="915.50" stroke="#3b3e96" stroke-width="0.8" />
<line x1="235.40" y1="1036.50" x2="271.50" y2="915.50" stroke="#3b3e96" stroke-width="0.8" />
<ellipse cx="262.50" cy="932.00" rx="12.00" ry="3.50" transform="rotate(-74 262.50 932.00)" fill="none" stroke="#3b3e96" stroke-width="0.8"/>
<ellipse cx="254.00" cy="958.00" rx="14.00" ry="4.00" transform="rotate(-74 254.00 958.00)" fill="none" stroke="#3b3e96" stroke-width="0.8"/>
<ellipse cx="248.00" cy="985.00" rx="12.00" ry="3.50" transform="rotate(-74 248.00 985.00)" fill="none" stroke="#3b3e96" stroke-width="0.8"/>
<ellipse cx="241.00" cy="1015.00" rx="14.00" ry="4.00" transform="rotate(-74 241.00 1015.00)" fill="none" stroke="#3b3e96" stroke-width="0.8"/>
<ellipse cx="245.00" cy="956.00" rx="59.00" ry="27.50" transform="rotate(-13 245.00 956.00)" fill="none" stroke="#000" stroke-width="0.65"/>
<ellipse cx="208.00" cy="997.00" rx="33.00" ry="25.00" transform="rotate(-35 208.00 997.00)" fill="none" stroke="#000" stroke-width="0.65"/>
<ellipse cx="238.00" cy="998.00" rx="37.00" ry="18.00" transform="rotate(-15 238.00 998.00)" fill="none" stroke="#000" stroke-width="0.65"/>
<ellipse cx="228.00" cy="985.00" rx="28.00" ry="20.00" transform="rotate(-20 228.00 985.00)" fill="none" stroke="#000" stroke-width="0.65"/>
<ellipse cx="256.00" cy="945.00" rx="22.00" ry="24.00" transform="rotate(0 256.00 945.00)" fill="none" stroke="#000" stroke-width="0.65"/>
<ellipse cx="257.00" cy="943.00" rx="28.00" ry="17.00" transform="rotate(-40 257.00 943.00)" fill="none" stroke="#000" stroke-width="0.65"/>
<ellipse cx="248.00" cy="973.00" rx="30.00" ry="15.00" transform="rotate(-25 248.00 973.00)" fill="none" stroke="#000" stroke-width="0.65"/>
<ellipse cx="250.00" cy="968.00" rx="20.00" ry="12.00" transform="rotate(-35 250.00 968.00)" fill="none" stroke="#000" stroke-width="0.65"/>
<ellipse cx="246.00" cy="978.00" rx="12.00" ry="8.00" transform="rotate(-60 246.00 978.00)" fill="none" stroke="#000" stroke-width="0.65"/>
<ellipse cx="252.00" cy="960.00" rx="10.00" ry="14.00" transform="rotate(-20 252.00 960.00)" fill="none" stroke="#000" stroke-width="0.65"/>
<ellipse cx="262.00" cy="966.00" rx="24.00" ry="15.00" transform="rotate(-30 262.00 966.00)" fill="none" stroke="#000" stroke-width="0.65"/>
<text x="249.50" y="929.20" font-size="13.2" textLength="22.20" lengthAdjust="spacingAndGlyphs" text-anchor="start" fill="#000" >252</text>
<text x="217.30" y="1011.40" font-size="13.2" textLength="23.00" lengthAdjust="spacingAndGlyphs" text-anchor="start" fill="#000" >250</text>
<line x1="304.10" y1="977.30" x2="304.10" y2="1016.30" stroke="#111" stroke-width="1.3" />
<line x1="303.50" y1="1015.80" x2="329.80" y2="1015.80" stroke="#111" stroke-width="1.3" />
<g transform="translate(298.7 0) rotate(-90)"><text x="-1002.9" y="0" font-size="13.8" textLength="32" lengthAdjust="spacingAndGlyphs">Pb/U</text></g>
<g transform="translate(287.3 0) rotate(-90)"><text x="-990.1" y="0" font-size="7.0" textLength="11.8" lengthAdjust="spacingAndGlyphs">238</text><text x="-1012.3" y="0" font-size="7.0" textLength="12.3" lengthAdjust="spacingAndGlyphs">206</text></g>
<text x="286.40" y="1025.40" font-size="7.3" textLength="12.30" lengthAdjust="spacingAndGlyphs" text-anchor="start" fill="#000" >207</text>
<text x="308.10" y="1025.40" font-size="7.3" textLength="12.80" lengthAdjust="spacingAndGlyphs" text-anchor="start" fill="#000" >235</text>
<text x="294.70" y="1036.50" font-size="12.6" textLength="28.70" lengthAdjust="spacingAndGlyphs" text-anchor="start" fill="#000" >Pb/U</text>
<rect x="515.40" y="744.40" width="69.40" height="100.00" fill="#1e1e1e" />
<polygon points="571.3,746.5 574.4,750.2 579.5,765.3 582.5,780.5 581.9,798.7 579.5,816.9 572.8,826.0 560.7,835.2 556.1,835.2 527.3,826.0 518.8,820.0 517.6,804.8 518.8,786.6 524.3,771.4 530.3,763.8 544.0,756.2 560.7,749.6" fill="#858585" stroke="none" stroke-width="0"/>
<polygon points="524.3,771.4 530.3,763.8 544.0,756.2 560.7,749.6 571.3,746.5 569.8,749.0 541.0,766.9 530.3,772.0" fill="#9c9c9c" stroke="none" stroke-width="0"/>
<polygon points="520.6,795.7 521.9,786.6 530.3,772.0 541.0,766.9 536.4,805.4 521.9,800.6" fill="#bdbdbd" stroke="none" stroke-width="0"/>
<polygon points="541.0,766.9 569.8,749.0 564.9,769.0 553.4,810.9 536.4,805.4" fill="#a4a4a4" stroke="none" stroke-width="0"/>
<polygon points="569.8,749.0 574.4,751.7 579.5,765.3 582.5,780.5 581.9,798.7 579.5,816.9 572.8,826.0 553.4,810.9 564.9,769.0" fill="#8d8d8d" stroke="none" stroke-width="0"/>
<polygon points="517.6,804.8 521.9,800.6 536.4,805.4 553.4,810.9 572.8,826.0 560.7,835.2 556.1,835.2 527.3,826.0 518.8,820.0" fill="#767676" stroke="none" stroke-width="0"/>
<polygon points="545.5,756.9 560.7,750.2 570.4,747.1 572.8,749.0 562.2,753.8 548.6,759.3" fill="#d6d6d6" stroke="none" stroke-width="0"/>
<rect x="540.00" y="838.80" width="43.10" height="5.00" fill="#fff" />
<text x="544.60" y="853.80" font-size="11.2" textLength="33.80" lengthAdjust="spacingAndGlyphs" text-anchor="start" fill="#000" >90 &#181;m</text>
<rect x="514.20" y="860.20" width="85.10" height="101.60" fill="#191919" />
<polygon points="517.9,880.2 520.9,876.5 526.8,869.8 529.8,865.4 538.6,861.7 556.4,861.3 568.2,863.9 574.2,868.4 581.6,875.8 584.5,881.7 581.6,884.6 578.6,890.6 577.1,898.0 579.3,902.4 589.0,898.0 594.9,898.7 597.1,902.4 596.4,914.2 591.9,923.1 586.0,930.5 575.6,937.9 568.2,945.3 566.8,952.7 562.3,954.2 544.6,954.2 531.2,952.7 523.8,949.8 520.9,924.6 518.7,899.4 517.2,887.6" fill="#b8b8b8" stroke="none" stroke-width="0"/>
<polygon points="566.8,952.7 568.2,945.3 575.6,937.9 586.0,930.5 591.9,923.1 596.4,914.2 597.1,902.4 594.9,898.7 589.0,898.0 579.3,902.4 586.0,906.8 581.6,912.8 575.6,920.2 568.2,932.0 563.8,940.9 563.8,952.7" fill="#8e8e8e" stroke="none" stroke-width="0"/>
<polygon points="568.2,946.8 577.1,937.9 589.0,927.6 594.9,917.2 591.9,923.1 586.0,930.5 575.6,937.9 568.2,945.3" fill="#6e6e6e" stroke="none" stroke-width="0"/>
<polygon points="529.8,865.4 538.6,861.7 556.4,861.3 568.2,863.9 574.2,868.4 556.4,866.9 541.6,866.1" fill="#bebebe" stroke="none" stroke-width="0"/>
<polygon points="544.6,873.5 553.4,872.1 564.5,876.5 554.9,881.7" fill="#191919" stroke="none" stroke-width="0"/>
<rect x="543.40" y="955.40" width="41.70" height="6.20" fill="#fff" />
<text x="548.20" y="971.20" font-size="11.2" textLength="33.20" lengthAdjust="spacingAndGlyphs" text-anchor="start" fill="#000" >70 &#181;m</text>
<rect x="509.60" y="977.50" width="92.60" height="77.60" fill="#141414" />
<polygon points="510.9,1024.3 514.2,1014.5 520.8,1004.6 535.6,993.1 547.1,987.3 555.3,984.9 560.3,982.4 563.6,980.8 571.8,979.9 583.3,980.8 587.4,984.0 589.1,991.4 593.2,1001.3 600.6,1010.4 599.8,1016.1 588.2,1024.3 575.1,1032.6 563.6,1040.8 552.1,1047.4 545.5,1048.2 535.6,1044.1 524.1,1037.5 515.9,1032.6 511.8,1029.3" fill="#8b8b8b" stroke="none" stroke-width="0"/>
<polygon points="514.2,1014.5 520.8,1004.6 535.6,993.1 547.1,987.3 555.3,984.9 560.3,982.4 562.7,994.7 555.3,999.7 543.8,1007.9 534.0,1014.5 527.4,1024.3 524.1,1029.3 515.9,1024.3" fill="#939393" stroke="none" stroke-width="0"/>
<polygon points="511.8,1024.3 519.2,1024.3 524.9,1027.6 526.6,1034.2 522.4,1035.9 515.9,1031.7" fill="#a6a6a6" stroke="none" stroke-width="0"/>
<polygon points="563.6,980.8 569.3,980.3 565.2,991.4 561.9,996.4 561.1,989.8" fill="#6a6a6a" stroke="none" stroke-width="0"/>
<rect x="566.00" y="1038.30" width="34.60" height="4.20" fill="#fff" />
<text x="567.20" y="1051.80" font-size="11.2" textLength="33.20" lengthAdjust="spacingAndGlyphs" text-anchor="start" fill="#fff" >90 &#181;m</text>
</svg>
</body></html>
